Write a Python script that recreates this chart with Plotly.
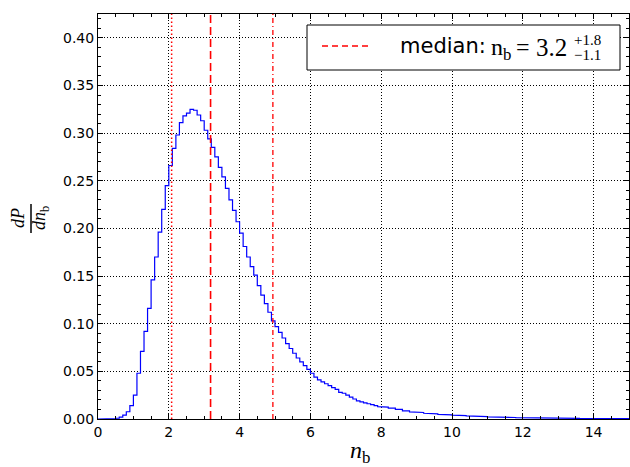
import numpy as np
import plotly.graph_objects as go

# ---- data ----
# histogram of n_b: fine bins (0.1 wide) from 0.4 to 8.0, coarser (0.2 wide) from 8.0 to 15.0
density_fine = [
    0.0003, 0.0008, 0.002, 0.004, 0.0076, 0.014, 0.025, 0.048, 0.071, 0.092,
    0.116, 0.146, 0.170, 0.196, 0.220, 0.245, 0.266, 0.284, 0.298, 0.311,
    0.318, 0.321, 0.325, 0.324, 0.319, 0.313, 0.303, 0.294, 0.285, 0.275,
    0.264, 0.254, 0.242, 0.230, 0.219, 0.207, 0.195, 0.181, 0.170, 0.160,
    0.151, 0.140, 0.130, 0.121, 0.112, 0.103, 0.097, 0.091, 0.085, 0.079,
    0.074, 0.069, 0.064, 0.060, 0.056, 0.052, 0.048, 0.044, 0.041, 0.039,
    0.037, 0.035, 0.033, 0.031, 0.028, 0.027, 0.025, 0.023, 0.021, 0.019,
    0.018, 0.017, 0.016, 0.015, 0.014, 0.013,
]
density_coarse = [
    0.0125, 0.0115, 0.0100, 0.0085, 0.0075, 0.0068, 0.0060, 0.0054, 0.0048, 0.0044,
    0.0040, 0.0036, 0.0032, 0.0028, 0.0025, 0.0022, 0.0020, 0.0018, 0.0016, 0.0014,
    0.0013, 0.0012, 0.0011, 0.0010, 0.0009, 0.0008, 0.0008, 0.0007, 0.0006, 0.0006,
    0.0005, 0.0005, 0.0004, 0.0004, 0.0003,
]
fine_start, fine_width = 0.4, 0.1
coarse_start, coarse_width = 8.0, 0.2

median_value = 3.18
lower_value = 2.08
upper_value = 4.94
legend_label = "median:"
legend_var = "n<sub>b</sub>"
legend_eq = "="
legend_val = "3.2"
legend_plus = "+1.8"
legend_minus = "\u22121.1"

x_ticks = [0, 2, 4, 6, 8, 10, 12, 14]
y_ticks = [0.00, 0.05, 0.10, 0.15, 0.20, 0.25, 0.30, 0.35, 0.40]

# ---- build step outline ----
edges_fine = [fine_start + i * fine_width for i in range(len(density_fine) + 1)]
edges_coarse = [coarse_start + i * coarse_width for i in range(len(density_coarse) + 1)]
edges = edges_fine + edges_coarse[1:]
dens = density_fine + density_coarse
xs, ys = [0.0, edges[0]], [0.0, 0.0]
for i, d in enumerate(dens):
    xs += [edges[i], edges[i + 1]]
    ys += [d, d]
xs.append(edges[-1]); ys.append(0.0)

W, H = 630, 467
L, R, T, B = 98, 1, 14, 48
pw, ph = W - L - R, H - T - B

def px(xp):
    return (xp - L) / pw

def py(yp):
    return (H - B - yp) / ph

fig = go.Figure()
fig.add_trace(go.Scatter(x=xs, y=ys, mode="lines", line=dict(color="#0000ff", width=1.2),
                         showlegend=False, hoverinfo="skip"))

axis_common = dict(
    showline=True, linecolor="black", linewidth=1, mirror="ticks",
    ticks="inside", ticklen=5, tickwidth=1, tickcolor="black",
    showgrid=True, gridcolor="black", gridwidth=1, griddash="1px,2px",
    zeroline=False,
    tickfont=dict(family="DejaVu Sans", size=14, color="black"),
)
fig.update_xaxes(range=[0, 15], tickvals=x_ticks, ticktext=[str(t) for t in x_ticks],
                 minor=dict(dtick=0.5, ticks="inside", ticklen=3, tickcolor="black", showgrid=False),
                 **axis_common)
fig.update_yaxes(range=[0, 0.425], tickvals=y_ticks, ticktext=[f"{t:.2f}" for t in y_ticks],
                 minor=dict(dtick=0.01, ticks="inside", ticklen=3, tickcolor="black", showgrid=False),
                 **axis_common)

shapes = []
for v, dash, w in [(lower_value, "1.5px,2.5px", 1.5), (median_value, "8px,4px", 1.6),
                   (upper_value, "5px,3px,1px,3px", 1.3)]:
    shapes.append(dict(type="line", xref="x", yref="paper", x0=v, x1=v, y0=0, y1=1,
                       line=dict(color="red", width=w, dash=dash), layer="above"))
# legend box
shapes.append(dict(type="rect", xref="paper", yref="paper", x0=px(307), x1=px(620), y0=py(70), y1=py(25),
                   line=dict(color="black", width=1), fillcolor="white", layer="above"))
shapes.append(dict(type="line", xref="paper", yref="paper", x0=px(322), x1=px(370), y0=py(46), y1=py(46),
                   line=dict(color="red", width=1.3, dash="6px,4px"), layer="above"))
# y-title fraction bar
shapes.append(dict(type="line", xref="paper", yref="paper", x0=px(31), x1=px(31), y0=py(204), y1=py(233),
                   line=dict(color="black", width=1.5)))

def ann(text, x, y, family, size, xanchor="left", angle=0):
    return dict(text=text, x=px(x), y=py(y), xref="paper", yref="paper", xanchor=xanchor,
                yanchor="middle", showarrow=False, textangle=angle,
                font=dict(family=family, size=size, color="black"))

annotations = [
    ann(legend_label, 398, 46, "DejaVu Sans", 21),
    ann(legend_var, 489, 49, "Liberation Serif", 24),
    ann(legend_eq, 514, 47, "Liberation Serif", 24),
    ann(legend_val, 534, 47, "Liberation Serif", 25),
    ann(legend_plus, 572, 40, "Liberation Serif", 15),
    ann(legend_minus, 572, 55, "Liberation Serif", 15),
    ann("<i>n</i><sub>b</sub>", 360, 452, "Liberation Serif", 24, xanchor="center"),
    ann("<i>dP</i>", 18, 218, "Liberation Serif", 18, xanchor="center", angle=-90),
    ann("<i>dn</i><sub>b</sub>", 40, 218, "Liberation Serif", 18, xanchor="center", angle=-90),
]

fig.update_layout(
    width=W, height=H, margin=dict(l=L, r=R, t=T, b=B),
    paper_bgcolor="white", plot_bgcolor="white",
    shapes=shapes, annotations=annotations, showlegend=False,
)
fig.write_html("out.html", config={"displayModeBar": False},
               post_script="document.body.style.margin='0';document.body.style.overflow='hidden';")
